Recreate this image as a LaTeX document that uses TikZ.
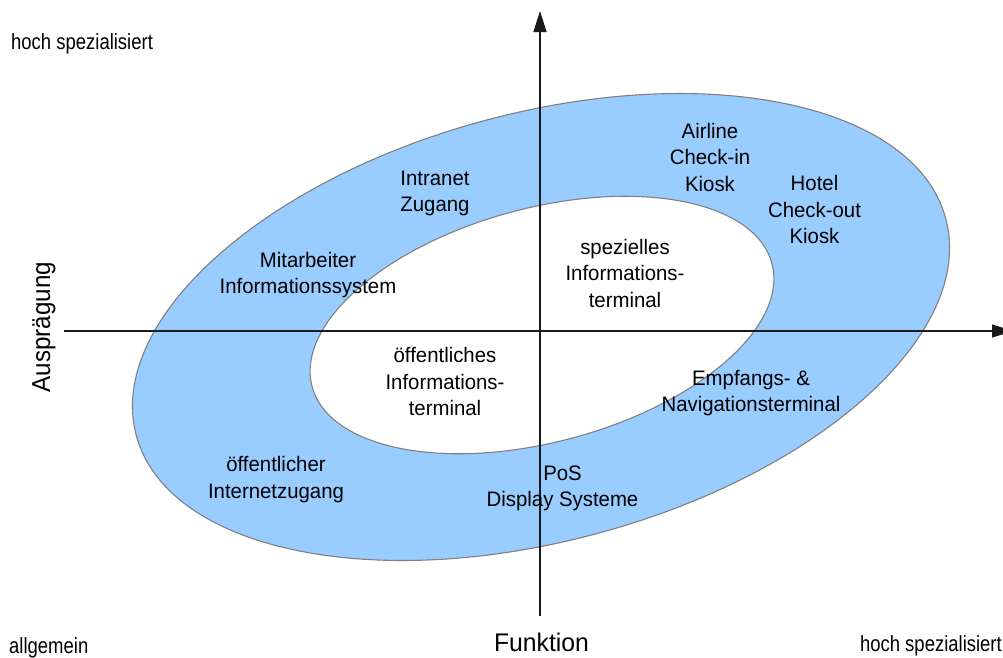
\documentclass[tikz,border=0pt]{standalone}
\usepackage{fontspec}
\setmainfont{Liberation Sans}
\newfontfamily\mainlbl[FakeStretch=0.97]{Liberation Sans}
\newfontfamily\cornerlbl[FakeStretch=0.84]{Liberation Sans}
\newfontfamily\axislbl[FakeStretch=0.97]{Liberation Sans}
\newfontfamily\axislblv[FakeStretch=0.93]{Liberation Sans}
\usetikzlibrary{arrows.meta}
\definecolor{ringblue}{HTML}{99CCFF}
\definecolor{ringedge}{HTML}{808080}
\definecolor{axiscol}{HTML}{1A1A1A}
\newcommand{\mylines}[1]{\begin{tabular}[t]{@{}c@{}}#1\end{tabular}}
\begin{document}
\begin{tikzpicture}[x=1pt,y=-1pt,
  lbl/.style={anchor=base, inner sep=0pt, font=\mainlbl\fontsize{21}{26.5}\selectfont},
  corner/.style={inner sep=0pt, font=\cornerlbl\fontsize{22}{26}\selectfont},
  axistitle/.style={anchor=base, inner sep=0pt, font=\axislbl\fontsize{25.5}{30}\selectfont},
  axistitlev/.style={anchor=base, inner sep=0pt, rotate=90, font=\axislblv\fontsize{26}{30}\selectfont},
  axisline/.style={line width=1.3pt, draw=axiscol, -{Triangle[width=13pt,length=21pt]}},
  ring/.style={draw=ringedge, line width=1.1pt}]
\useasboundingbox (0,0) rectangle (1003,657);
\fill[white] (0,0) rectangle (1003,657);
% rings
\draw[ring, fill=ringblue, rotate around={15:(541,327)}] (541,327) ellipse [x radius=419pt, y radius=214pt];
\draw[ring, fill=white, rotate around={15:(542,325)}] (542,325) ellipse [x radius=238pt, y radius=117pt];
% axes
\coordinate (xstart) at (64,331);
\coordinate (xend) at (1013,331);
\coordinate (ystart) at (540,616);
\coordinate (yend) at (540,11);
\draw[axisline] (xstart) -- (xend);
\draw[axisline] (ystart) -- (yend);
% ring labels
\node[lbl] (intranet) at (435,185) {\mylines{Intranet\\Zugang}};
\node[lbl] (mitarbeiter) at (308,267.3) {\mylines{Mitarbeiter\\Informationssystem}};
\node[lbl] (airline) at (710,138.3) {\mylines{Airline\\Check-in\\Kiosk}};
\node[lbl] (hotel) at (814.5,190.7) {\mylines{Hotel\\Check-out\\Kiosk}};
\node[lbl] (spez) at (625,254) {\mylines{spezielles\\Informations-\\terminal}};
\node[lbl] (oeff) at (445,362.7) {\mylines{öffentliches\\Informations-\\terminal}};
\node[lbl] (internet) at (276,471.7) {\mylines{öffentlicher\\Internetzugang}};
\node[lbl] (pos) at (562.5,480) {\mylines{PoS\\Display Systeme}};
\node[lbl] (empfang) at (751,385) {\mylines{Empfangs- \&\\Navigationsterminal}};
% corner labels
\node[corner, anchor=base west] (hochtl) at (11,49) {hoch spezialisiert};
\node[corner, anchor=base west] (allg) at (9,653) {allgemein};
\node[corner, anchor=base east] (hochbr) at (1002,651) {hoch spezialisiert};
% axis titles
\node[axistitle] (funktion) at (541.5,651) {Funktion};
\node[axistitlev] (auspraegung) at (50,327) {Ausprägung};
\end{tikzpicture}
\end{document}
